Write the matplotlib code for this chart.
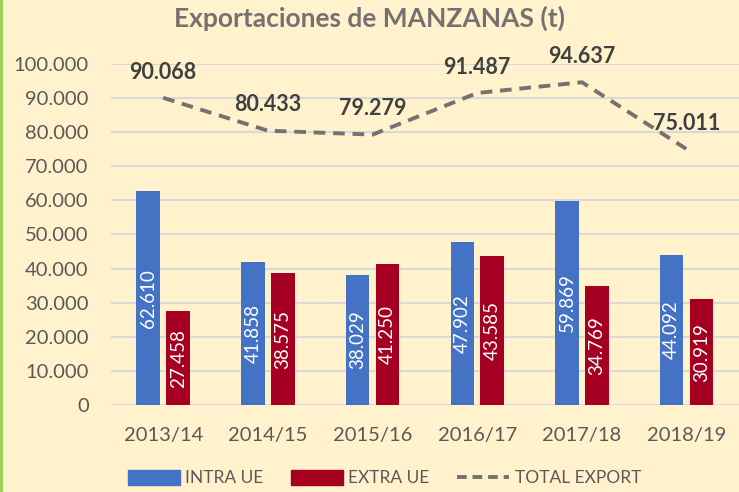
import matplotlib
matplotlib.use("Agg")
from matplotlib import pyplot as plt
from matplotlib.lines import Line2D
from matplotlib.patches import Patch
import numpy as np

seasons = ["2013/14", "2014/15", "2015/16", "2016/17", "2017/18", "2018/19"]
intra_ue = [62610, 41858, 38029, 47902, 59869, 44092]
extra_ue = [27458, 38575, 41250, 43585, 34769, 30919]
total_export = [90068, 80433, 79279, 91487, 94637, 75011]
yticks = [0, 10000, 20000, 30000, 40000, 50000, 60000, 70000, 80000, 90000, 100000]

BG = "#FFF2CC"
BLUE = "#4472C4"
RED = "#A50021"
GRAY = "#767171"


def fmt(v):
    """Spanish thousands separator."""
    return "{:,}".format(v).replace(",", ".")


plt.rcParams["font.family"] = ["Lato", "DejaVu Sans"]

fig = plt.figure(figsize=(7.39, 4.92), dpi=100, facecolor=BG)
ax = fig.add_axes([0.150, 0.177, 0.850, 0.693], facecolor=BG)

x = np.arange(len(seasons))
w = 0.225
off = 0.143
ax.bar(x - off, intra_ue, w, color=BLUE, zorder=3)
ax.bar(x + off, extra_ue, w, color=RED, zorder=3)

for i in range(len(seasons)):
    ax.text(x[i] - off, intra_ue[i] / 2, fmt(intra_ue[i]), rotation=90,
            ha="center", va="center", color="white", fontsize=13.5, zorder=4)
    ax.text(x[i] + off, extra_ue[i] / 2, fmt(extra_ue[i]), rotation=90,
            ha="center", va="center", color="white", fontsize=13.5, zorder=4)

ax.plot(x, total_export, color=GRAY, lw=2.8, ls=(0, (3, 2)), zorder=5)
for i, v in enumerate(total_export):
    ax.annotate(fmt(v), (x[i], v), xytext=(0, 11), textcoords="offset points",
                ha="center", va="bottom", fontsize=15.5, fontweight="bold",
                color="#404040", zorder=6)

ax.set_xlim(-0.5, len(seasons) - 0.5)
ax.set_ylim(0, 100000)
ax.set_yticks(yticks)
ax.set_yticklabels([fmt(t) for t in yticks])
ax.set_xticks(x)
ax.set_xticklabels(seasons)
ax.tick_params(axis="both", length=0, labelsize=14.5, labelcolor="#595959")
ax.tick_params(axis="y", pad=16)
ax.tick_params(axis="x", pad=16)
ax.grid(axis="y", color="#D9D9D9", lw=1.5, zorder=0)
for s in ax.spines.values():
    s.set_visible(False)

fig.text(0.50, 0.963, "Exportaciones de MANZANAS (t)", ha="center", va="center",
         fontsize=19, fontweight="bold", color="#767171")

handles = [Patch(color=BLUE, label="INTRA UE"),
           Patch(color=RED, label="EXTRA UE"),
           Line2D([0], [0], color=GRAY, lw=2.8, ls=(0, (2.5, 1.5)), label="TOTAL EXPORT")]
fig.legend(handles=handles, loc="center", bbox_to_anchor=(0.52, 0.028), ncol=3,
           frameon=False, fontsize=12.5, labelcolor="#595959", handlelength=3.0,
           handleheight=0.9, columnspacing=1.6, handletextpad=0.3)

# green border on the left edge
fig.add_artist(Line2D([0.002, 0.002], [0, 1], color="#92D050", lw=2,
                      transform=fig.transFigure))

fig.savefig("out.png", dpi=100, facecolor=BG)
